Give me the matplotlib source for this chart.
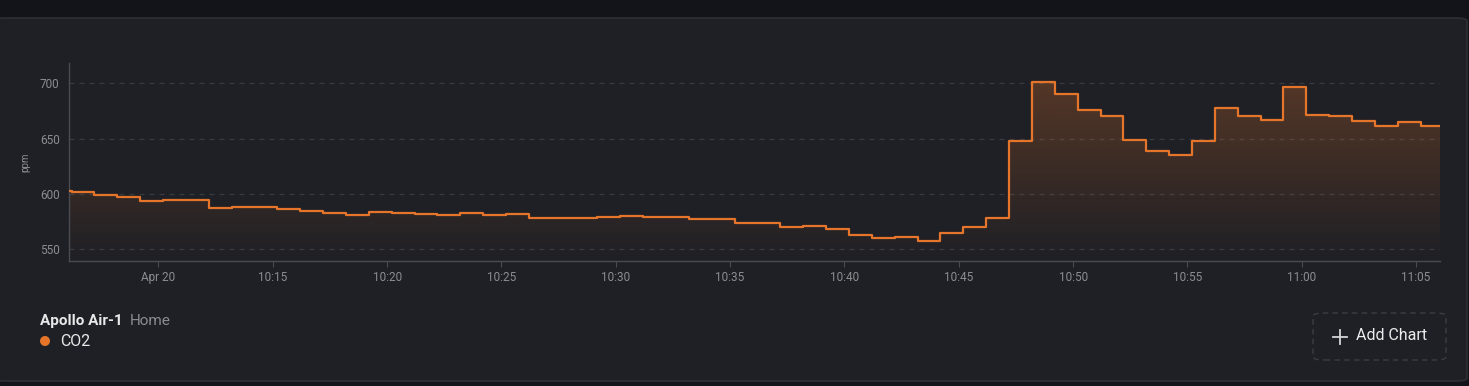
import matplotlib
matplotlib.use("Agg")
import matplotlib.pyplot as plt
import matplotlib.dates as mdates
from matplotlib.patches import FancyBboxPatch, Ellipse
from matplotlib.lines import Line2D
import numpy as np
import pandas as pd

# CO2 readings (ppm), one sample a minute from 10:06 to 11:05
first_time = "2024-04-20 10:06:06"
first_value = 603
sample_start = "2024-04-20 10:06:12"
co2_ppm = [602, 599, 597, 594, 595, 595, 587, 588, 588, 586,
           585, 583, 581, 584, 583, 582, 581, 583, 581, 582,
           578, 578, 578, 579, 580, 579, 579, 577, 577, 574,
           574, 570, 571, 568, 563, 560, 561, 558, 565, 570,
           578, 648, 701, 690, 676, 670, 649, 639, 635, 648,
           678, 670, 667, 697, 671, 670, 666, 661, 665, 661]
end_time = "2024-04-20 11:06:02"

x_ticks = ["10:10", "10:15", "10:20", "10:25", "10:30", "10:35",
           "10:40", "10:45", "10:50", "10:55", "11:00", "11:05"]
x_tick_labels = ["Apr 20", "10:15", "10:20", "10:25", "10:30", "10:35",
                 "10:40", "10:45", "10:50", "10:55", "11:00", "11:05"]
y_ticks = [550, 600, 650, 700]

device_name = "Apollo Air-1"
area_name = "Home"
series_name = "CO2"

orange = "#e5752a"
card_bg = "#1f2025"
outer_bg = "#131419"
tick_color = "#8c8c91"

plt.rcParams["font.family"] = ["Roboto", "DejaVu Sans"]

times = [pd.Timestamp(first_time)] + list(pd.date_range(sample_start, periods=len(co2_ppm), freq="1min"))
values = [first_value] + co2_ppm
times.append(pd.Timestamp(end_time))
values.append(co2_ppm[-1])
t_num = mdates.date2num(times)

fig = plt.figure(figsize=(14.69, 3.86), dpi=100)
fig.patch.set_facecolor(outer_bg)

W, H = 1469, 386
card = FancyBboxPatch((-6 / W, 5 / H), 1473 / W, 363 / H,
                      boxstyle="round,pad=0,rounding_size=0.008",
                      transform=fig.transFigure, facecolor=card_bg,
                      edgecolor="#2e2f35", linewidth=1.2, zorder=-5)
fig.patches.append(card)

ax = fig.add_axes([69.3 / W, 1 - 261 / H, (1439.7 - 69.3) / W, (261 - 62.7) / H])
ax.set_facecolor("none")
ymin, ymax = 539.5, 718.5
ax.set_ylim(ymin, ymax)
ax.set_xlim(t_num[0], t_num[-1])

# gradient fill under the step line
poly = ax.fill_between(t_num, values, ymin, step="post", facecolor="none", edgecolor="none")
grad = np.linspace(0.3, 0.0, 256).reshape(-1, 1)
rgba = np.zeros((256, 1, 4))
rgba[..., :3] = matplotlib.colors.to_rgb(orange)
rgba[..., 3] = grad
img = ax.imshow(rgba, extent=[t_num[0], t_num[-1], ymin, ymax], aspect="auto",
                origin="upper", zorder=1, interpolation="bilinear")
img.set_clip_path(poly.get_paths()[0], transform=ax.transData)

ax.step(t_num, values, where="post", color=orange, linewidth=1.6, zorder=3)

for s in ["top", "right"]:
    ax.spines[s].set_visible(False)
for s in ["left", "bottom"]:
    ax.spines[s].set_color("#4a4b51")
    ax.spines[s].set_linewidth(1)

ax.set_yticks(y_ticks)
ax.yaxis.grid(True, color="#393a40", linestyle=(0, (4, 4)), linewidth=0.9)
ax.set_axisbelow(True)
ax.tick_params(axis="y", length=0, pad=7, labelsize=8.5, labelcolor=tick_color)

ax.set_xticks(mdates.date2num([pd.Timestamp("2024-04-20 " + t) for t in x_ticks]))
ax.set_xticklabels(x_tick_labels)
ax.tick_params(axis="x", length=4, color="#4a4b51", pad=3, labelsize=8.5, labelcolor=tick_color)

ax.set_ylabel("ppm", color=tick_color, fontsize=7, labelpad=7)

# legend block
fig.text(40 / W, 1 - 321 / H, device_name, color="#e8e8ea", fontsize=11,
         fontweight="bold", va="center", ha="left")
fig.text(130 / W, 1 - 321 / H, area_name, color="#8c8c91", fontsize=11,
         va="center", ha="left")
fig.patches.append(Ellipse((45 / W, 1 - 341 / H), 10 / W, 10 / H, transform=fig.transFigure,
                           facecolor=orange, edgecolor="none"))
fig.text(60 / W, 1 - 341 / H, series_name, color="#e8e8ea", fontsize=11.5,
         va="center", ha="left")

# "Add Chart" button
btn = FancyBboxPatch((1313 / W, 1 - 360 / H), 133 / W, 47 / H,
                     boxstyle="round,pad=0,rounding_size=0.008",
                     transform=fig.transFigure, facecolor="none",
                     edgecolor="#3c3d43", linewidth=1, linestyle=(0, (4, 3)))
fig.patches.append(btn)
fig.lines.append(Line2D([1333 / W, 1347 / W], [1 - 337 / H, 1 - 337 / H],
                        transform=fig.transFigure, color="#d6d6d8", linewidth=1.3))
fig.lines.append(Line2D([1340 / W, 1340 / W], [1 - 330 / H, 1 - 344 / H],
                        transform=fig.transFigure, color="#d6d6d8", linewidth=1.3))
fig.text(1356 / W, 1 - 336 / H, "Add Chart", color="#ececee", fontsize=11.5,
         va="center", ha="left")

fig.savefig("out.png", dpi=100, facecolor=fig.get_facecolor())
